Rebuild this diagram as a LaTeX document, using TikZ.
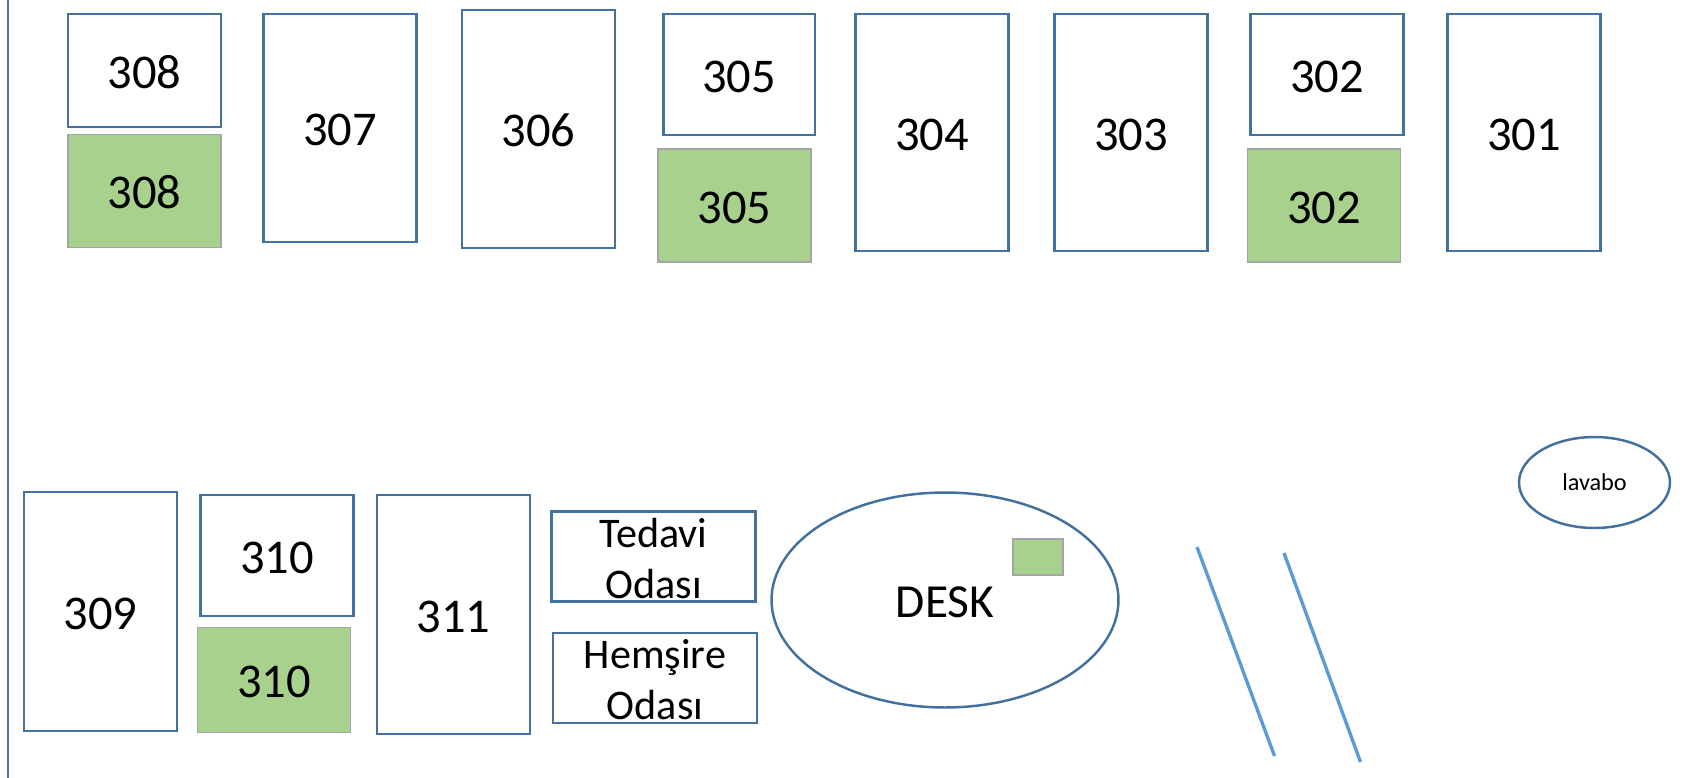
\documentclass[tikz,border=0pt]{standalone}
\usepackage{fontspec}
\setmainfont{Carlito}
\usepackage{tikz}
\usetikzlibrary{shapes.geometric}
\definecolor{wardblue}{RGB}{65, 113, 156}
\definecolor{wardgreen}{RGB}{169, 209, 142}
\definecolor{wardgray}{RGB}{165, 165, 165}
\definecolor{doorblue}{RGB}{91, 155, 213}

\begin{document}
\begin{tikzpicture}[x=0.02cm, y=-0.02cm,
  room/.style={draw=wardblue, line width=1.4pt, fill=white, inner sep=0pt, minimum width=3.06cm,
               align=center, font=\fontsize{27.6}{32}\selectfont, text=black, text height=20.2pt},
  greenroom/.style={room, draw=wardgray, line width=0.6pt, fill=wardgreen},
  sideroom/.style={room, minimum width=4.08cm, minimum height=1.8cm, text height=47.7pt,
                   font=\fontsize{24}{29}\selectfont},
  oval/.style={ellipse, draw=wardblue, line width=1.4pt, inner sep=0pt, text=black},
  doorline/.style={draw=doorblue, line width=1.9pt}]
  \useasboundingbox (0,0) rectangle (1685,778);

  % Left wall
  \coordinate (walltop) at (8,0);
  \coordinate (wallbot) at (8,778);
  \draw[wardblue, line width=1.6pt] (walltop) -- (wallbot);

  % TOP row: 308 to 301
  \node[room, minimum height=2.26cm] (r308) at (144.5,70.5) {308};
  \node[greenroom, minimum height=2.25cm] (g308) at (144.5,191) {308};
  \node[room, minimum height=4.56cm] (r307) at (340,128) {307};
  \node[room, minimum height=4.76cm] (r306) at (538.5,129) {306};
  \node[room, minimum width=3.03cm, minimum height=2.42cm] (r305) at (739,74.5) {305};
  \node[greenroom, minimum height=2.26cm] (g305) at (734.5,205.5) {305};
  \node[room, minimum height=4.74cm] (r304) at (932,132.5) {304};
  \node[room, minimum height=4.74cm] (r303) at (1131,132.5) {303};
  \node[room, minimum height=2.42cm] (r302) at (1327,74.5) {302};
  \node[greenroom, minimum height=2.26cm] (g302) at (1324,205.5) {302};
  \node[room, minimum height=4.74cm] (r301) at (1524,132.5) {301};

  % BOTTOM row: 309 to 311
  \node[room, minimum height=4.78cm] (r309) at (100.5,611.5) {309};
  \node[room, minimum height=2.42cm] (r310) at (277,555.5) {310};
  \node[greenroom, minimum height=2.09cm] (g310) at (274,680) {310};
  \node[room, minimum height=4.78cm] (r311) at (453.5,614.5) {311};

  % Side rooms
  \node[sideroom] (tedavi) at (653.5,556.5) {Tedavi\\Odası};
  \node[sideroom] (hemsire) at (655,678) {Hemşire\\Odası};

  % Desk
  \node[oval, minimum width=6.94cm, minimum height=4.3cm, font=\fontsize{27}{32}\selectfont, text height=20pt] (desk) at (945,600) {DESK};
  \node[greenroom, minimum width=1cm, minimum height=0.72cm, text height=0pt] (gdesk) at (1038,557) {};

  % Sink
  \node[oval, minimum width=3.02cm, minimum height=1.82cm, font=\fontsize{13.8}{16}\selectfont] (lavabo) at (1594.5,482.5) {lavabo};

  % Door lines
  \coordinate (d1a) at (1197,547);
  \coordinate (d1b) at (1274.5,756);
  \coordinate (d2a) at (1284,553);
  \coordinate (d2b) at (1360.5,762);
  \draw[doorline] (d1a) -- (d1b);
  \draw[doorline] (d2a) -- (d2b);
\end{tikzpicture}
\end{document}
